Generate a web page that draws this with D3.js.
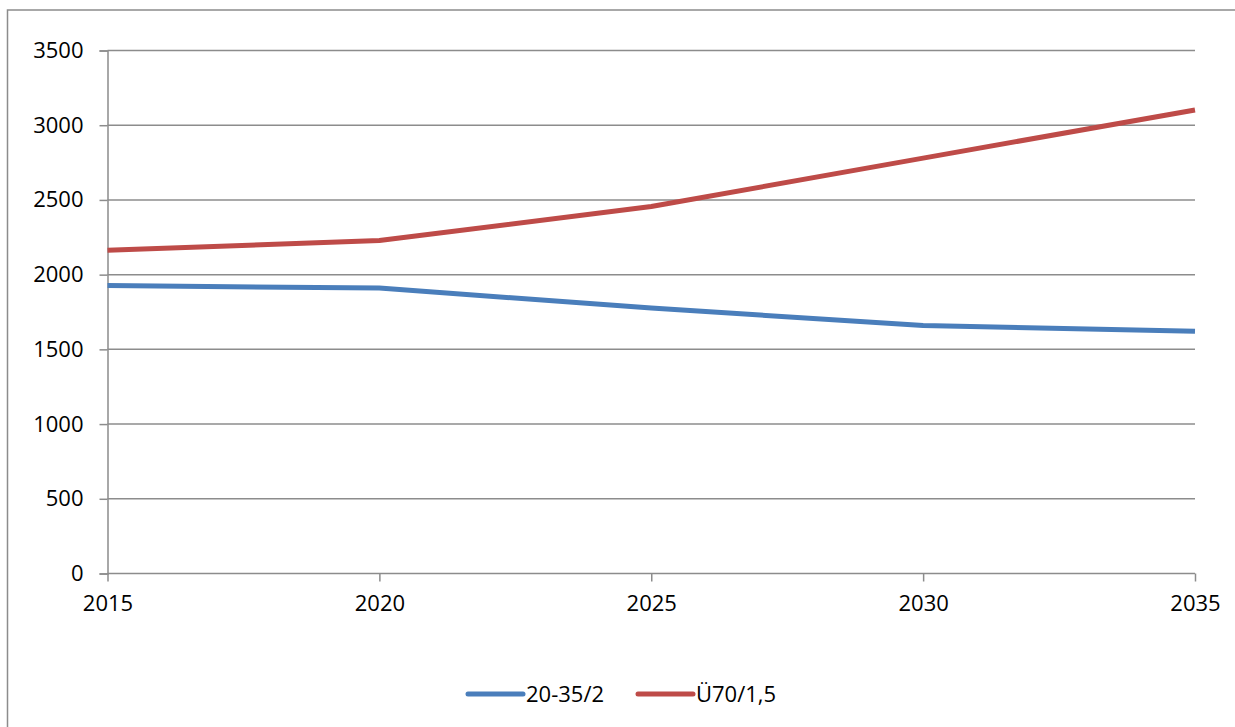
<!DOCTYPE html>
<html>
<head>
<meta charset="utf-8">
<script src="https://cdn.jsdelivr.net/npm/d3@7"></script>
<style>
  body { margin: 0; background: #fff; }
  text { font-family: "Open Sans", sans-serif; font-size: 22px; fill: #000; }
</style>
</head>
<body>
<svg id="chart"></svg>
<script>
// data
const years = [2015, 2020, 2025, 2030, 2035];
const young = [1927, 1910, 1776, 1659, 1622];   // 20-35/2
const old = [2164, 2228, 2456, 2780, 3102];     // Ü70/1,5
const yTicks = [0, 500, 1000, 1500, 2000, 2500, 3000, 3500];
const seriesNames = ["20-35/2", "Ü70/1,5"];
const seriesColors = ["#4a7ebb", "#be4b48"];

const width = 1235, height = 727;
const margin = {top: 50.5, right: 40, bottom: 153.5, left: 107.5};

const svg = d3.select("#chart")
    .attr("width", width)
    .attr("height", height);

// outer frame of the chart, cut off at right/bottom like the picture
svg.append("rect")
    .attr("x", 7.5).attr("y", 10)
    .attr("width", 1300).attr("height", 800)
    .attr("fill", "none")
    .attr("stroke", "#8c8c8c")
    .attr("stroke-width", 1.5);

const x = d3.scalePoint()
    .domain(years)
    .range([margin.left, width - margin.right]);

const y = d3.scaleLinear()
    .domain([0, 3500])
    .range([height - margin.bottom, margin.top]);

// horizontal gridlines
svg.append("g")
    .selectAll("line")
    .data(yTicks.filter(d => d > 0))
    .enter()
    .append("line")
    .attr("x1", margin.left)
    .attr("x2", width - margin.right)
    .attr("y1", d => y(d))
    .attr("y2", d => y(d))
    .attr("stroke", "#8c8c8c")
    .attr("stroke-width", 1.5);

// y axis
const yAxis = svg.append("g")
    .attr("transform", "translate(" + margin.left + ",0)")
    .call(d3.axisLeft(y).tickValues(yTicks).tickSize(8).tickPadding(16).tickFormat(d3.format("d")));

// x axis
const xAxis = svg.append("g")
    .attr("transform", "translate(0," + y(0) + ")")
    .call(d3.axisBottom(x).tickSize(8).tickPadding(14).tickFormat(d3.format("d")));

[yAxis, xAxis].forEach(function(a) {
    a.select(".domain").attr("stroke", "#8c8c8c").attr("stroke-width", 1.5);
    a.selectAll(".tick line").attr("stroke", "#8c8c8c").attr("stroke-width", 1.5);
    a.selectAll("text")
        .style("font-family", "'Open Sans', sans-serif")
        .style("font-size", "22px")
        .attr("fill", "#000");
});
xAxis.select(".domain").attr("d", "M" + margin.left + ",0H" + (width - margin.right));

// lines
const line = d3.line()
    .x((d, i) => x(years[i]))
    .y(d => y(d));

[young, old].forEach(function(values, i) {
    svg.append("path")
        .datum(values)
        .attr("d", line)
        .attr("fill", "none")
        .attr("stroke", seriesColors[i])
        .attr("stroke-width", 5)
        .attr("stroke-linejoin", "round");
});

// legend
const legendX = [468, 638];
const legend = svg.append("g")
    .selectAll("g")
    .data(seriesNames)
    .enter()
    .append("g")
    .attr("transform", (d, i) => "translate(" + legendX[i] + ",694)");

legend.append("line")
    .attr("x1", 0).attr("x2", 55)
    .attr("stroke", (d, i) => seriesColors[i])
    .attr("stroke-width", 5)
    .attr("stroke-linecap", "round");

legend.append("text")
    .attr("x", 58)
    .attr("dy", "0.36em")
    .text(d => d);
</script>
</body>
</html>
